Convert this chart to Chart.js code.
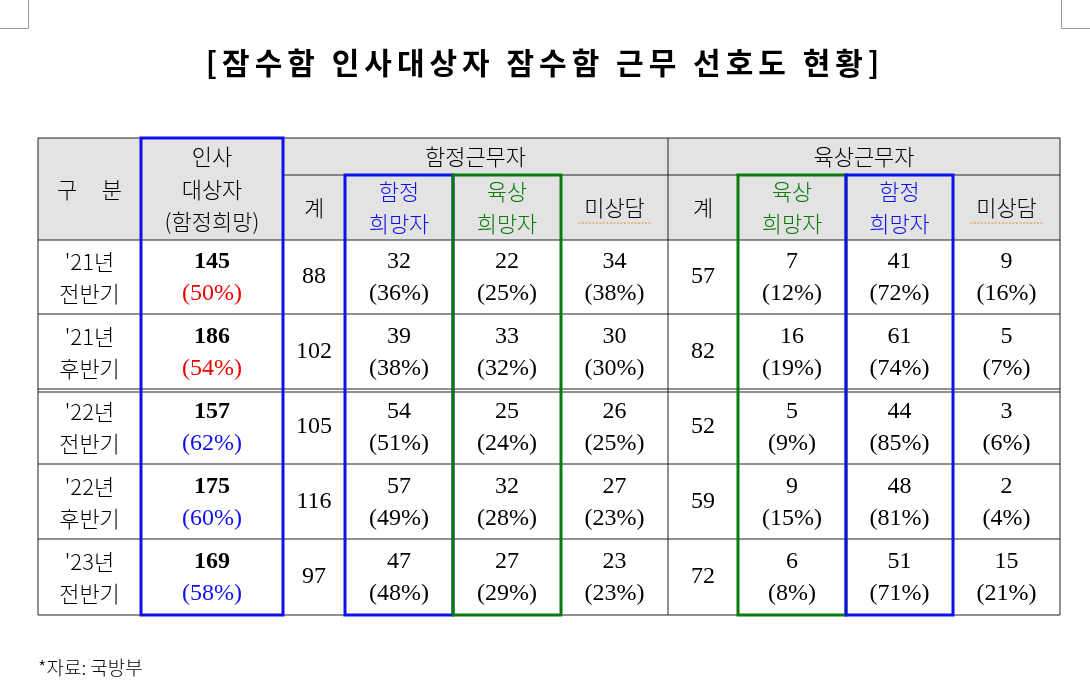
<!DOCTYPE html>
<html><head><meta charset="utf-8">
<script src="https://cdn.jsdelivr.net/npm/chart.js@4"></script>
<style>body{margin:0;background:#fff}canvas{display:block}</style>
</head><body><canvas id="c" width="1090" height="693"></canvas>
<script>
const periods = [["'21년","전반기"],["'21년","후반기"],["'22년","전반기"],["'22년","후반기"],["'23년","전반기"]];
const targets = [145,186,157,175,169];
const targetPct = ["50%","54%","62%","60%","58%"];
const shipTotal = [88,102,105,116,97];
const shipWantShip = [[32,"36%"],[39,"38%"],[54,"51%"],[57,"49%"],[47,"48%"]];
const shipWantLand = [[22,"25%"],[33,"32%"],[25,"24%"],[32,"28%"],[27,"29%"]];
const shipNone = [[34,"38%"],[30,"30%"],[26,"25%"],[27,"23%"],[23,"23%"]];
const landTotal = [57,82,52,59,72];
const landWantLand = [[7,"12%"],[16,"19%"],[5,"9%"],[9,"15%"],[6,"8%"]];
const landWantShip = [[41,"72%"],[61,"74%"],[44,"85%"],[48,"81%"],[51,"71%"]];
const landNone = [[9,"16%"],[5,"7%"],[3,"6%"],[2,"4%"],[15,"21%"]];
const title = "[잠수함 인사대상자 잠수함 근무 선호도 현황]";
const source = "*자료: 국방부";

const colX = [38,141,283,345,453,561,668,738,846,953,1060];
const rowY = [138,175,240,314,389,464,539,615];
const BLUE="#1010ee", GREEN="#0a7a0a", RED="#ee0000";
const KR="'Noto Sans CJK KR', sans-serif", SER="'Liberation Serif', serif";

const tablePlugin = {
  id:'table',
  afterDraw(chart){
    const ctx=chart.ctx, sx=chart.scales.x, sy=chart.scales.y;
    const X=v=>sx.getPixelForValue(v), Y=v=>sy.getPixelForValue(v);
    ctx.save();
    ctx.strokeStyle="#999";ctx.lineWidth=1;
    ctx.beginPath();ctx.moveTo(X(0),Y(28.5));ctx.lineTo(X(28.5),Y(28.5));ctx.lineTo(X(28.5),Y(0));
    ctx.moveTo(X(1090),Y(28.5));ctx.lineTo(X(1061.5),Y(28.5));ctx.lineTo(X(1061.5),Y(0));ctx.stroke();
    ctx.fillStyle="#000";ctx.textAlign="center";ctx.textBaseline="middle";
    ctx.font="bold 30px "+KR;
    ctx.letterSpacing="5px";
    ctx.fillText(title,X(545),Y(63));
    ctx.letterSpacing="0px";
    ctx.fillStyle="#e3e3e3";
    ctx.fillRect(X(colX[0]),Y(rowY[0]),X(colX[10])-X(colX[0]),Y(rowY[2])-Y(rowY[0]));
    ctx.strokeStyle="#222";ctx.lineWidth=1;
    const line=(a,b,c,d)=>{ctx.beginPath();ctx.moveTo(X(a),Y(b));ctx.lineTo(X(c),Y(d));ctx.stroke();};
    line(colX[0],rowY[0],colX[10],rowY[0]);
    line(colX[2],rowY[1],colX[10],rowY[1]);
    for(let i=2;i<rowY.length;i++) line(colX[0],rowY[i],colX[10],rowY[i]);
    line(colX[0],rowY[4]+3,colX[10],rowY[4]+3);
    [0,1,2,6,10].forEach(i=>line(colX[i],rowY[0],colX[i],rowY[7]));
    [3,4,5,7,8,9].forEach(i=>line(colX[i],rowY[1],colX[i],rowY[7]));
    const txt=(s,cx,cy,font,color)=>{ctx.font=font;ctx.fillStyle=color||"#000";ctx.fillText(s,X(cx),Y(cy));};
    const mid=i=>(colX[i]+colX[i+1])/2;
    const hk="300 22px "+KR;
    txt("구     분",mid(0),190,hk);
    txt("인사",mid(1),157,hk);txt("대상자",mid(1),190,hk);txt("(함정희망)",mid(1),222,hk);
    txt("함정근무자",(colX[2]+colX[6])/2,157,hk);
    txt("육상근무자",(colX[6]+colX[10])/2,157,hk);
    txt("계",mid(2),208,hk);txt("계",mid(6),208,hk);
    const two=(a,b,i,c)=>{txt(a,mid(i),192,hk,c);txt(b,mid(i),224,hk,c);};
    two("함정","희망자",3,BLUE);two("육상","희망자",4,GREEN);
    two("육상","희망자",7,GREEN);two("함정","희망자",8,BLUE);
    txt("미상담",mid(5),208,hk);txt("미상담",mid(9),208,hk);
    ctx.strokeStyle="#e08a2a";ctx.setLineDash([2,1.5]);
    [5,9].forEach(i=>line(mid(i)-36,223,mid(i)+36,223));
    ctx.setLineDash([]);
    const nf="24px "+SER;
    for(let r=0;r<5;r++){
      const t=rowY[r+2], b=rowY[r+3], c=(t+b)/2, y1=c-15, y2=c+17;
      txt(periods[r][0],mid(0),y1,hk);txt(periods[r][1],mid(0),y2,hk);
      txt(String(targets[r]),mid(1),y1,"bold 24px "+SER);
      txt("("+targetPct[r]+")",mid(1),y2,"24px "+SER,r<2?RED:BLUE);
      txt(String(shipTotal[r]),mid(2),c,nf);
      txt(String(landTotal[r]),mid(6),c,nf);
      [[shipWantShip,3],[shipWantLand,4],[shipNone,5],[landWantLand,7],[landWantShip,8],[landNone,9]].forEach(([arr,i])=>{
        txt(String(arr[r][0]),mid(i),y1,nf);txt("("+arr[r][1]+")",mid(i),y2,nf);
      });
    }
    ctx.lineWidth=3;
    const box=(i,top,col)=>{ctx.strokeStyle=col;ctx.strokeRect(X(colX[i]),Y(top),X(colX[i+1])-X(colX[i]),Y(rowY[7])-Y(top));};
    box(1,rowY[0],BLUE);box(3,rowY[1],BLUE);box(4,rowY[1],GREEN);box(7,rowY[1],GREEN);box(8,rowY[1],BLUE);
    ctx.textAlign="left";txt(source,38,668,"300 19px "+KR);
    ctx.restore();
  }
};

new Chart(document.getElementById('c'),{
  type:'scatter',
  data:{datasets:[{data:[]}]},
  options:{responsive:false,animation:false,events:[],
    layout:{padding:0},
    plugins:{legend:{display:false},tooltip:{enabled:false}},
    scales:{x:{type:'linear',min:0,max:1090,display:false},
            y:{type:'linear',min:0,max:693,reverse:true,display:false}}},
  plugins:[tablePlugin]
});
</script></body></html>
